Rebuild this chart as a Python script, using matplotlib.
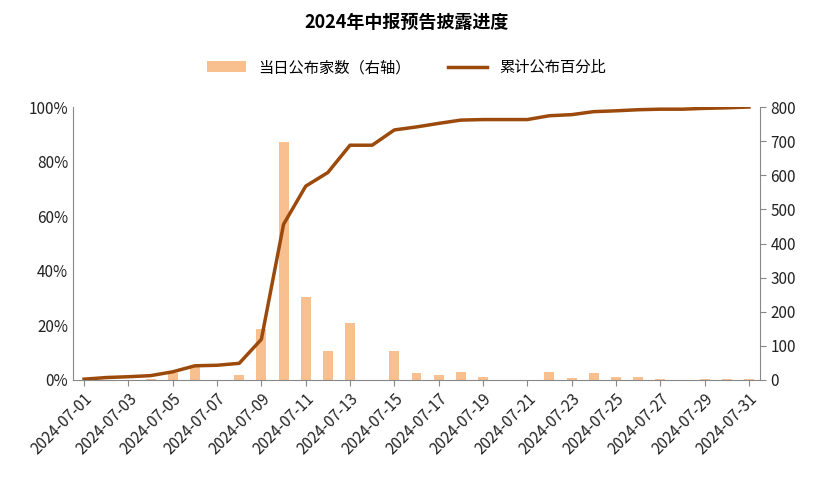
import numpy as np
import matplotlib.pyplot as plt
from matplotlib import font_manager
from matplotlib.ticker import PercentFormatter

cjk = [f.name for f in font_manager.fontManager.ttflist if 'CJK' in f.name]
prefer = [n for n in ['Noto Sans CJK SC', 'Noto Sans CJK JP'] if n in cjk] or cjk
plt.rcParams['font.family'] = 'sans-serif'
plt.rcParams['font.sans-serif'] = prefer[:1] + ['DejaVu Sans']
plt.rcParams['axes.unicode_minus'] = False

dates = ['2024-07-%02d' % d for d in range(1, 32)]
daily_count = [0, 0, 0, 2, 20, 38, 1, 14, 150, 697, 243, 85, 167, 0, 85,
               20, 14, 23, 8, 0, 0, 24, 5, 20, 8, 8, 3, 0, 3, 3, 3]
cum_pct = [0.3, 0.9, 1.2, 1.6, 3.0, 5.2, 5.4, 6.1, 14.9, 57, 71, 76, 86, 86, 91.6,
           92.7, 94.0, 95.2, 95.4, 95.4, 95.4, 96.8, 97.2, 98.3, 98.6, 99.0, 99.2,
           99.2, 99.5, 99.7, 100]

BAR_COLOR = '#f8c08e'
LINE_COLOR = '#9c4a0c'
SPINE = '#888888'

fig = plt.figure(figsize=(8.13, 4.9), dpi=100)
ax = fig.add_axes([73 / 813, 1 - 380 / 490, 687 / 813, 273 / 490])
ax2 = ax.twinx()

x = np.arange(len(dates))
ax2.bar(x, daily_count, width=0.45, color=BAR_COLOR, label='当日公布家数（右轴）', zorder=1)
ax.plot(x, cum_pct, color=LINE_COLOR, lw=2.5, label='累计公布百分比', zorder=3)
ax.set_zorder(ax2.get_zorder() + 1)
ax.patch.set_visible(False)

ax.set_ylim(0, 100)
ax.set_yticks(range(0, 101, 20))
ax.yaxis.set_major_formatter(PercentFormatter(decimals=0))
ax2.set_ylim(0, 800)
ax2.set_yticks(range(0, 801, 100))
ax.set_xlim(-0.5, len(dates) - 0.5)
ax.set_xticks(x[::2])
ax.set_xticklabels(dates[::2], rotation=45, ha='right', rotation_mode='anchor')

for a in (ax, ax2):
    for s in a.spines.values():
        s.set_visible(False)
    a.tick_params(labelsize=11, colors='#222222', length=4)
ax.spines['left'].set_visible(True)
ax.spines['left'].set_color(SPINE)
ax.spines['bottom'].set_visible(True)
ax.spines['bottom'].set_color(SPINE)
ax2.spines['right'].set_visible(True)
ax2.spines['right'].set_color(SPINE)
ax.tick_params(axis='y', length=0)
ax.tick_params(axis='x', color=SPINE)
ax2.tick_params(axis='y', color=SPINE)

fig.text(0.5, 0.955, '2024年中报预告披露进度', ha='center', va='center',
         fontsize=13, fontweight='bold')
h1, l1 = ax2.get_legend_handles_labels()
h2, l2 = ax.get_legend_handles_labels()
fig.legend(h1 + h2, l1 + l2, loc='center', bbox_to_anchor=(0.5, 0.862), ncol=2,
           frameon=False, fontsize=11, handlelength=2.5, columnspacing=2.5)

fig.savefig('out.png', dpi=100)
